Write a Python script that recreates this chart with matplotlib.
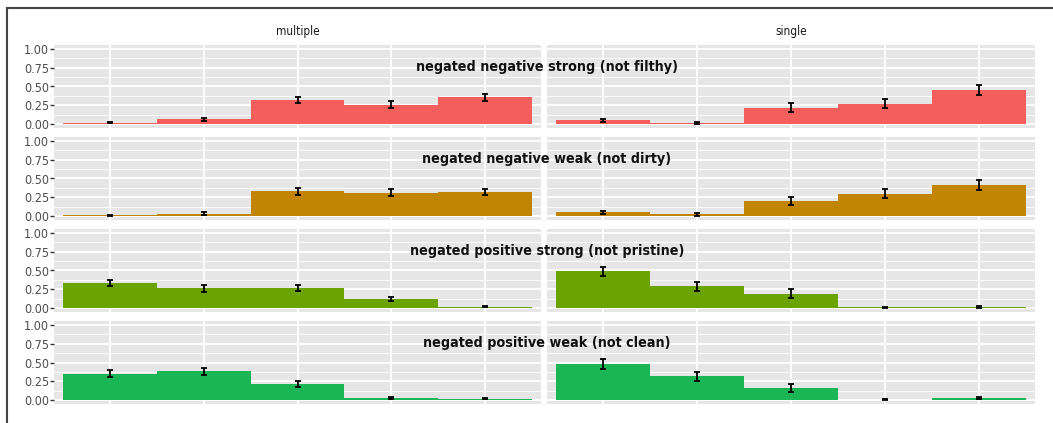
import matplotlib
matplotlib.use("Agg")
import matplotlib.pyplot as plt
from matplotlib.lines import Line2D

plt.rcParams['font.family'] = ['DejaVu Sans']
plt.rcParams['font.stretch'] = 'condensed'

columns = ['multiple', 'single']
rows = ['negated negative strong (not filthy)',
        'negated negative weak (not dirty)',
        'negated positive strong (not pristine)',
        'negated positive weak (not clean)']
colors = ['#F35F5C', '#C18403', '#6BA302', '#1AB655']
xpos = [1, 2, 3, 4, 5]

# mean proportion per bin, [row][column]
means = [
    [[0.02, 0.065, 0.32, 0.26, 0.355], [0.05, 0.02, 0.22, 0.27, 0.45]],
    [[0.013, 0.035, 0.33, 0.31, 0.32], [0.05, 0.027, 0.20, 0.30, 0.41]],
    [[0.335, 0.265, 0.265, 0.12, 0.02], [0.49, 0.29, 0.195, 0.01, 0.02]],
    [[0.35, 0.385, 0.22, 0.03, 0.02], [0.485, 0.32, 0.16, 0.005, 0.03]],
]
# standard errors
errors = [
    [[0.01, 0.02, 0.045, 0.045, 0.05], [0.025, 0.012, 0.055, 0.06, 0.065]],
    [[0.008, 0.015, 0.045, 0.045, 0.045], [0.025, 0.02, 0.055, 0.06, 0.065]],
    [[0.045, 0.045, 0.04, 0.03, 0.008], [0.06, 0.06, 0.055, 0.008, 0.012]],
    [[0.045, 0.045, 0.04, 0.01, 0.008], [0.065, 0.06, 0.05, 0.005, 0.015]],
]
yticks = [0.0, 0.25, 0.5, 0.75, 1.0]
ytick_labels = ['0.00', '0.25', '0.50', '0.75', '1.00']

W, H = 1053, 423
fig = plt.figure(figsize=(W / 100, H / 100), dpi=100)

lefts = [54, 547]
widths = [487, 488]
tops = [45, 137, 229, 321]
ph = 83

for r in range(4):
    for c in range(2):
        ax = fig.add_axes([lefts[c] / W, 1 - (tops[r] + ph) / H, widths[c] / W, ph / H])
        ax.set_facecolor('#E6E6E6')
        for s in ax.spines.values():
            s.set_visible(False)
        ax.set_xlim(0.4, 5.6)
        ax.set_ylim(-0.05, 1.05)
        for y in [0.125, 0.375, 0.625, 0.875]:
            ax.axhline(y, color='white', lw=0.6, zorder=0.5)
        for y in yticks:
            ax.axhline(y, color='white', lw=1.3, zorder=0.6)
        for x in xpos:
            ax.axvline(x, color='white', lw=1.3, zorder=0.6)
        ax.bar(xpos, means[r][c], width=1.0, color=colors[r], zorder=2)
        ax.errorbar(xpos, means[r][c], yerr=errors[r][c], fmt='none',
                    ecolor='black', elinewidth=1.3, capsize=2, capthick=1.3, zorder=3)
        ax.set_xticks([])
        if c == 0:
            ax.set_yticks(yticks)
            ax.set_yticklabels(ytick_labels)
            ax.tick_params(axis='y', length=3, width=1, color='#333333',
                           labelcolor='#4D4D4D', labelsize=9, pad=0.5)
        else:
            ax.set_yticks([])
        if r == 0:
            ax.set_title(columns[c], fontsize=8.5, color='#1A1A1A', pad=7)
    fig.text(547 / W, 1 - (tops[r] + 22) / H, rows[r], ha='center', va='center',
             fontsize=10.3, fontweight='bold', color='#111111')

# outer frame
fig.add_artist(Line2D([7 / W, 1], [1 - 8 / H, 1 - 8 / H], color='#444444', lw=1.5))
fig.add_artist(Line2D([7 / W, 7 / W], [0, 1 - 8 / H], color='#444444', lw=1.5))

fig.savefig('out.png', dpi=100)
